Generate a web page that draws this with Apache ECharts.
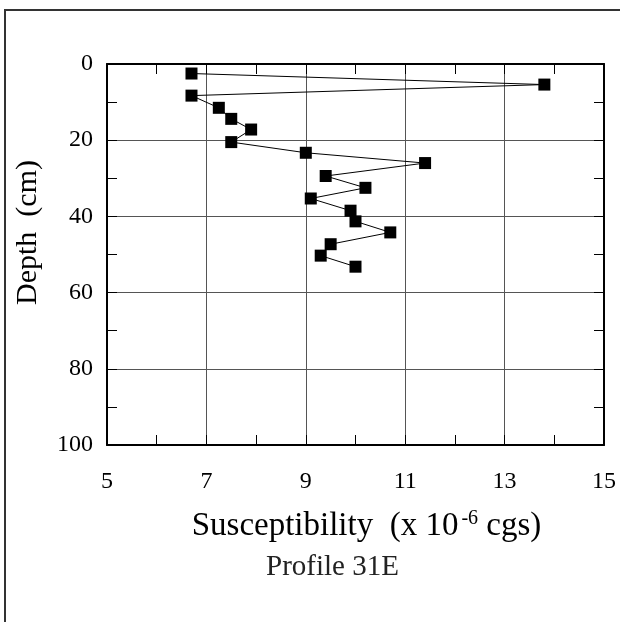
<!DOCTYPE html>
<html>
<head>
<meta charset="utf-8">
<script src="https://cdn.jsdelivr.net/npm/echarts@6/dist/echarts.min.js"></script>
<style>
html,body{margin:0;padding:0;background:#fff;}
#main{width:620px;height:622px;}
</style>
</head>
<body>
<div id="main"></div>
<script>
// Data
const susceptibility = [6.7, 13.8, 6.7, 7.25, 7.5, 7.9, 7.5, 9.0, 11.4, 9.4, 10.2, 9.1, 9.9, 10.0, 10.7, 9.5, 9.3, 10.0];
const depthCm = [2.5, 5.4, 8.3, 11.5, 14.4, 17.2, 20.5, 23.3, 26.0, 29.4, 32.5, 35.3, 38.5, 41.3, 44.2, 47.3, 50.3, 53.2];
const xTickLabels = ['5', '7', '9', '11', '13', '15'];
const yTickLabels = ['0', '20', '40', '60', '80', '100'];
const xTitle = 'Susceptibility  (x 10';
const xTitleSup = '-6';
const xTitleEnd = ' cgs)';
const yTitle = 'Depth  (cm)';
const chartTitle = 'Profile 31E';

const points = susceptibility.map((v, i) => [v, depthCm[i]]);
const FONT = '"Liberation Serif", "Times New Roman", serif';

// axis that only draws short inside ticks (and optionally its line)
function tickAxis(extra, showLine) {
  return Object.assign({
    type: 'value',
    axisLine: {show: showLine, onZero: false, lineStyle: {color: '#000', width: 2}},
    axisTick: {show: true, inside: true, length: 10, lineStyle: {color: '#000', width: 1}},
    axisLabel: {show: false},
    splitLine: {show: false}
  }, extra);
}

const chart = echarts.init(document.getElementById('main'), null, {renderer: 'canvas'});
chart.setOption({
  animation: false,
  backgroundColor: '#fff',
  title: {
    text: chartTitle,
    left: 266, top: 553, padding: 0,
    textStyle: {fontFamily: FONT, fontSize: 29, fontWeight: 'normal', color: '#222'}
  },
  graphic: [{
    type: 'rect', z: 100,
    shape: {x: 5, y: 10, width: 700, height: 700},
    style: {fill: 'none', stroke: '#333', lineWidth: 2}
  }],
  grid: {left: 107, right: 16, top: 64, bottom: 177},
  xAxis: [{
    type: 'value', position: 'bottom', min: 5, max: 15, interval: 2,
    axisLine: {show: true, onZero: false, lineStyle: {color: '#000', width: 2}},
    axisTick: {show: false},
    splitLine: {show: true, lineStyle: {color: '#555', width: 1}},
    axisLabel: {
      margin: 25, fontFamily: FONT, fontSize: 24, color: '#000',
      formatter: v => xTickLabels.includes(String(v)) ? String(v) : ''
    },
    name: '{a|' + xTitle + '}{s|' + xTitleSup + '}{a|' + xTitleEnd + '}',
    nameLocation: 'middle', nameGap: 63,
    nameTextStyle: {
      padding: [0, 0, 0, 22],
      rich: {
        a: {fontFamily: FONT, fontSize: 33, color: '#000', lineHeight: 36},
        s: {fontFamily: FONT, fontSize: 20, color: '#000', lineHeight: 36, padding: [0, 0, 14, 3]}
      }
    }
  },
  tickAxis({position: 'top', min: 5, max: 15, interval: 1}, true),
  tickAxis({position: 'bottom', min: 5, max: 15, interval: 1}, false)],
  yAxis: [{
    type: 'value', position: 'left', inverse: true, min: 0, max: 100, interval: 20,
    axisLine: {show: true, onZero: false, lineStyle: {color: '#000', width: 2}},
    axisTick: {show: false},
    splitLine: {show: true, lineStyle: {color: '#555', width: 1}},
    axisLabel: {
      margin: 14, fontFamily: FONT, fontSize: 24, color: '#000',
      formatter: v => yTickLabels.includes(String(v)) ? String(v) : ''
    },
    name: yTitle, nameLocation: 'middle', nameGap: 64, nameRotate: 90,
    nameTextStyle: {fontFamily: FONT, fontSize: 30, color: '#000', padding: [0, 0, 0, 44]}
  },
  tickAxis({position: 'right', inverse: true, min: 0, max: 100, interval: 10}, true),
  tickAxis({position: 'left', inverse: true, min: 0, max: 100, interval: 10}, false)],
  series: [{
    type: 'line',
    xAxisIndex: 0, yAxisIndex: 0,
    data: points,
    symbol: 'rect', symbolSize: 12,
    itemStyle: {color: '#000'},
    lineStyle: {color: '#000', width: 1},
    z: 5
  }]
});
</script>
</body>
</html>
